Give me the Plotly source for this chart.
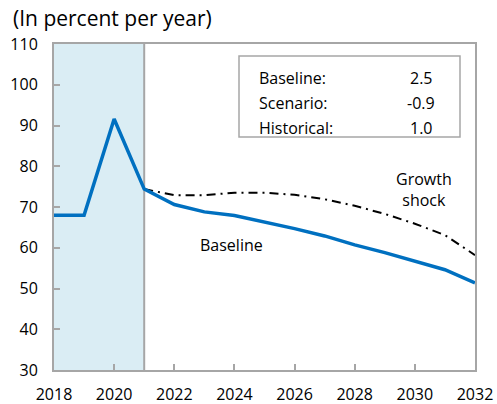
import plotly.graph_objects as go

years = list(range(2018, 2033))
baseline = [68.0, 68.0, 91.6, 74.4, 70.6, 68.8, 67.9, 66.4, 64.7, 62.9, 60.7, 58.8, 56.7, 54.6, 51.4]
shock_years = list(range(2021, 2033))
shock = [74.4, 72.9, 72.9, 73.5, 73.5, 73.0, 71.9, 70.3, 68.3, 65.9, 63.1, 58.2]
xticks = list(range(2018, 2033, 2))
yticks = list(range(30, 111, 10))
box_labels = ["Baseline:", "Scenario:", "Historical:"]
box_values = ["2.5", "-0.9", "1.0"]

FONT = "Open Sans"
FW, FH = 497, 404
L, R, T, B = 54, 475, 44, 370
W, H = R - L, B - T

def px(xp):
    return (xp - L) / W

def py(yp):
    return (B - yp) / H

fig = go.Figure()

fig.add_shape(type="rect", xref="x", yref="y", x0=2018, x1=2021, y0=30, y1=110,
              fillcolor="#DAEDF4", line=dict(width=0), layer="below")
fig.add_shape(type="line", xref="x", yref="y", x0=2021, x1=2021, y0=30, y1=110,
              line=dict(color="#A6A6A6", width=2), layer="below")

fig.add_trace(go.Scatter(x=shock_years, y=shock, mode="lines",
                         line=dict(color="black", width=2, dash="9px,5px,2px,5px"),
                         showlegend=False))
fig.add_trace(go.Scatter(x=years, y=baseline, mode="lines",
                         line=dict(color="#0070C0", width=3.5),
                         showlegend=False))

# text box
fig.add_shape(type="rect", xref="paper", yref="paper",
              x0=px(239), x1=px(460), y0=py(137), y1=py(56),
              line=dict(color="#A6A6A6", width=1.5), fillcolor="white")
ys = [78, 103, 128]
for lab, val, yp in zip(box_labels, box_values, ys):
    fig.add_annotation(xref="paper", yref="paper", x=px(257), y=py(yp),
                       text=lab, showarrow=False, xanchor="left", yanchor="middle",
                       font=dict(family=FONT, size=16, color="black"))
    fig.add_annotation(xref="paper", yref="paper", x=px(421), y=py(yp),
                       text=val, showarrow=False, xanchor="center", yanchor="middle",
                       font=dict(family=FONT, size=16, color="black"))

fig.add_annotation(xref="x", yref="y", x=2023.9, y=60.7, text="Baseline", showarrow=False,
                   font=dict(family=FONT, size=16, color="black"))
fig.add_annotation(xref="x", yref="y", x=2030.3, y=74.3, text="Growth<br>shock", showarrow=False,
                   font=dict(family=FONT, size=16, color="black"))

fig.add_annotation(xref="paper", yref="paper", x=px(11), y=py(18), text="(In percent per year)",
                   showarrow=False, xanchor="left", yanchor="middle",
                   font=dict(family=FONT, size=21, color="black"))

axis_common = dict(ticks="inside", ticklen=6, tickcolor="#A6A6A6", tickwidth=2,
                   showline=True, linecolor="#A6A6A6", linewidth=2, mirror=True,
                   showgrid=False, zeroline=False, automargin=False,
                   tickfont=dict(family=FONT, size=16, color="black"))
fig.update_xaxes(range=[2018, 2032], tickvals=xticks, ticklabelstandoff=9, **axis_common)
fig.update_yaxes(range=[30, 110], tickvals=yticks, ticklabelstandoff=11, **axis_common)

fig.update_layout(width=FW, height=FH, margin=dict(l=L, r=FW - R, t=T, b=FH - B, pad=0),
                  plot_bgcolor="white", paper_bgcolor="white", showlegend=False)

fig.write_html("out.html", config={"displayModeBar": False},
               post_script="document.body.style.margin='0';document.documentElement.style.overflow='hidden';document.body.style.overflow='hidden';")
